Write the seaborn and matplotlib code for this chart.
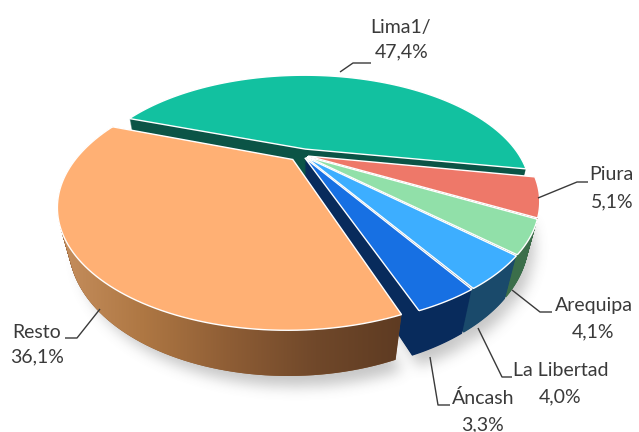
import numpy as np
import matplotlib
matplotlib.use("Agg")
import matplotlib.pyplot as plt
import matplotlib.transforms as mtransforms
import matplotlib.colors as mcolors
from matplotlib.path import Path
from matplotlib.patches import PathPatch
import seaborn as sns

# Regional shares (%)
regions = ["Lima1/", "Piura", "Arequipa", "La Libertad", "Áncash", "Resto"]
shares = [47.4, 5.1, 4.1, 4.0, 3.3, 36.1]
value_labels = ["47,4%", "5,1%", "4,1%", "4,0%", "3,3%", "36,1%"]

top_colors = ["#12C1A0", "#EE7869", "#91E0A9", "#3DAEFF", "#1770E3", "#FFB074"]
side_colors = ["#0B5446", "#8E3A31", "#3B6E4A", "#1A4A6B", "#082B5C", "#8C5C36"]
explode = [0.06, 0.03, 0.03, 0.03, 0.03, 0.06]

W, H = 639, 432
sns.set_theme(style="white")
plt.rcParams["font.family"] = ["Lato", "DejaVu Sans"]

# camera looking down on the disc (pixel units for the page)
CX, CY = 302.0, 155.0
SCALE = 214.0
ELEV = np.radians(29.2)
DIST = 2.40
THICK = 0.20


class Perspective(mtransforms.Transform):
    """Projects the unit pie plane, at height z, onto the page."""
    input_dims = output_dims = 2
    is_separable = False
    has_inverse = False

    def __init__(self, z=0.0):
        super().__init__()
        self.z = z

    def transform_non_affine(self, values):
        pts = np.asarray(values, float).reshape(-1, 2)
        u, v = pts[:, 0], pts[:, 1]
        w = 1.0 + (v * np.cos(ELEV) - self.z * np.sin(ELEV)) / DIST
        up = v * np.sin(ELEV) + self.z * np.cos(ELEV)
        return np.column_stack([CX + SCALE * u / w, CY - SCALE * up / w])

    def transform_path_non_affine(self, path):
        t = np.linspace(0.0, 1.0, 24)
        pts = [seg(t) for seg, _ in path.iter_bezier()]
        return Path(self.transform_non_affine(np.concatenate(pts)))


fig = plt.figure(figsize=(W / 100, H / 100), dpi=100)
ax = fig.add_axes([0, 0, 1, 1])


def draw_pie(z, colors, edge, lw, zorder):
    wedges, _ = ax.pie(shares, explode=explode, startangle=160, counterclock=False,
                       colors=colors, wedgeprops=dict(edgecolor=edge, linewidth=lw))
    tr = Perspective(z) + ax.transData
    for wd in wedges:
        wd.set_transform(tr)
        wd.set_zorder(zorder)
    return wedges


# soft drop shadow under the bottom face
base = draw_pie(-THICK, side_colors, "none", 0, 1)
yy, xx = np.mgrid[0:H, 0:W]
grid = np.column_stack([xx.ravel() + 0.5, yy.ravel() + 0.5])
mask = np.zeros(H * W, bool)
for wd in base:
    poly = Perspective(-THICK - 0.05).transform_path_non_affine(wd.get_path())
    poly = Path(poly.vertices + np.array([8.0, 0.0]))
    mask |= poly.contains_points(grid)
mask = mask.reshape(H, W).astype(float)
kern = np.ones(13) / 13.0
for _ in range(3):
    mask = np.apply_along_axis(lambda r: np.convolve(r, kern, mode="same"), 1, mask)
    mask = np.apply_along_axis(lambda c: np.convolve(c, kern, mode="same"), 0, mask)
shadow = np.zeros((H, W, 4))
shadow[..., :3] = 0.45
shadow[..., 3] = 0.40 * mask
ax.imshow(shadow, extent=(0, W, H, 0), zorder=0.5, interpolation="bilinear")

# side walls: stacked copies of the pie from the bottom face upwards
steps = np.linspace(-THICK, 0, 60)[1:-1]
for i, z in enumerate(steps):
    draw_pie(z, side_colors, "none", 0, 2 + i * 0.01)

# brown gradient on the outer wall of "Resto"
resto = base[-1].get_path()
pts = np.vstack([Perspective(0).transform_path_non_affine(resto).vertices,
                 Perspective(-THICK).transform_path_non_affine(resto).vertices])
pts = pts[np.lexsort((pts[:, 1], pts[:, 0]))]


def cross(o, a, b):
    return (a[0] - o[0]) * (b[1] - o[1]) - (a[1] - o[1]) * (b[0] - o[0])


lower, upper = [], []
for p in pts:
    while len(lower) >= 2 and cross(lower[-2], lower[-1], p) <= 0:
        lower.pop()
    lower.append(tuple(p))
for p in pts[::-1]:
    while len(upper) >= 2 and cross(upper[-2], upper[-1], p) <= 0:
        upper.pop()
    upper.append(tuple(p))
hull = np.array(lower[:-1] + upper[:-1])
clip = PathPatch(Path(hull, closed=False), transform=ax.transData, facecolor="none",
                 edgecolor="none")
ax.add_patch(clip)
x0, x1 = hull[:, 0].min(), hull[:, 0].max()
y0, y1 = hull[:, 1].min(), hull[:, 1].max()
cmap = mcolors.LinearSegmentedColormap.from_list(
    "wall", ["#C68F5E", "#AE7743", "#8E5D35", "#70482A", "#5E3B22"])
grad = np.linspace(0, 1, 256)[None, :]
img = ax.imshow(grad, extent=(x0, x1, y1, y0), cmap=cmap, aspect="auto",
                zorder=2.9, interpolation="bilinear")
img.set_clip_path(clip)

# top faces
draw_pie(0, top_colors, "white", 1.0, 4)

ax.set_aspect("auto")
ax.set_xlim(0, W)
ax.set_ylim(H, 0)
ax.axis("off")

# labels with leader lines
txt = dict(color="#3A3A3A", fontsize=14, zorder=6)
lead = dict(color="#3A3A3A", lw=1.0, zorder=6, solid_capstyle="butt")

ax.text(401, 27, regions[0], ha="center", va="center", **txt)
ax.text(402, 52, value_labels[0], ha="center", va="center", **txt)
ax.plot([340, 353, 371], [72, 63, 63], **lead)

ax.text(611, 175, regions[1], ha="center", va="center", **txt)
ax.text(612, 202, value_labels[1], ha="center", va="center", **txt)
ax.plot([538, 577, 588], [198, 182, 182], **lead)

ax.text(594, 305, regions[2], ha="center", va="center", **txt)
ax.text(593, 332, value_labels[2], ha="center", va="center", **txt)
ax.plot([512, 540, 552], [290, 312, 312], **lead)

ax.text(561, 370, regions[3], ha="center", va="center", **txt)
ax.text(560, 397, value_labels[3], ha="center", va="center", **txt)
ax.plot([478, 502, 512], [328, 377, 377], **lead)

ax.text(483, 398, regions[4], ha="center", va="center", **txt)
ax.text(482, 425, value_labels[4], ha="center", va="center", **txt)
ax.plot([430, 438, 450], [357, 405, 405], **lead)

ax.text(37, 332, regions[5], ha="center", va="center", **txt)
ax.text(37, 357, value_labels[5], ha="center", va="center", **txt)
ax.plot([100, 77, 65], [309, 338, 338], **lead)

fig.savefig("out.png", dpi=100, facecolor="white")
